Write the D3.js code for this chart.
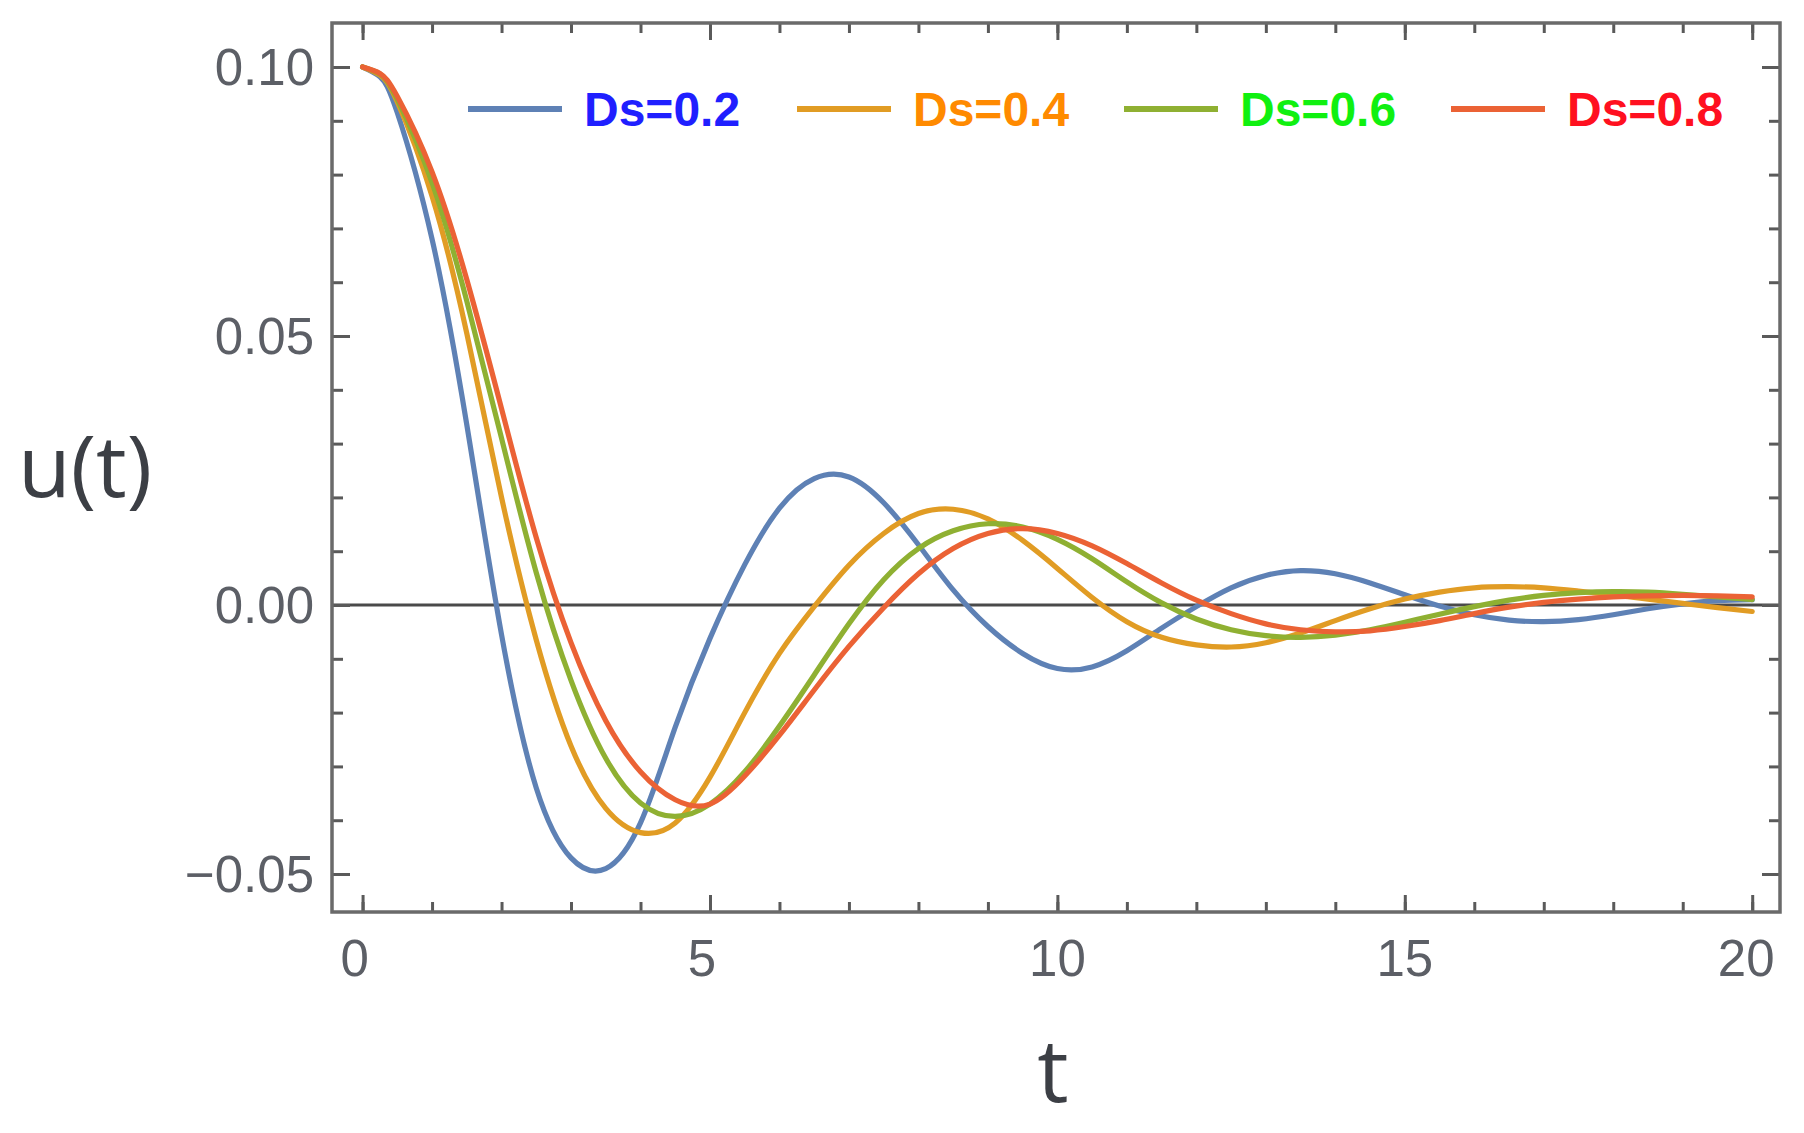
<!DOCTYPE html>
<html>
<head>
<meta charset="utf-8">
<script src="https://cdn.jsdelivr.net/npm/d3@7"></script>
<style>
  html, body { margin: 0; padding: 0; background: #ffffff; }
  svg { display: block; }
</style>
</head>
<body>
<svg id="chart" width="1804" height="1133"></svg>
<script>
// ---------------- data ----------------
const tValues = [0,0.25,0.5,1,1.5,2,2.5,3,3.5,4,4.5,5,5.5,6,6.5,7,7.5,8,8.5,9,9.5,10,
                 10.5,11,11.5,12,12.5,13,13.5,14,14.5,15,15.5,16,16.5,17,17.5,18,18.5,19,19.5,20];

const seriesNames = ["Ds=0.2", "Ds=0.4", "Ds=0.6", "Ds=0.8"];

const uDs02 = [0.1000,0.0982,0.0915,0.0680,0.0335,-0.0055,-0.0340,-0.0470,-0.0490,-0.0405,-0.0227,-0.0062,0.0075,0.0180,0.0235,0.0238,0.0190,0.0112,0.0028,-0.0040,-0.0090,-0.0118,
               -0.0115,-0.0085,-0.0043,-0.0003,0.0032,0.0055,0.0064,0.0058,0.0041,0.0019,-0.0002,-0.0018,-0.0028,-0.0031,-0.0027,-0.0018,-0.0007,0.0002,0.0008,0.0010];
const uDs04 = [0.1000,0.0985,0.0935,0.0760,0.0505,0.0200,-0.0065,-0.0262,-0.0378,-0.0423,-0.0405,-0.0320,-0.0200,-0.0090,-0.0003,0.0074,0.0133,0.0170,0.0178,0.0160,0.0120,0.0068,
               0.0014,-0.0031,-0.0060,-0.0074,-0.0078,-0.0070,-0.0052,-0.0029,-0.0007,0.0011,0.0024,0.0032,0.0034,0.0032,0.0026,0.0019,0.0011,0.0003,-0.0005,-0.0012];
const uDs06 = [0.1000,0.0987,0.0940,0.0785,0.0565,0.0310,0.0060,-0.0140,-0.0285,-0.0368,-0.0393,-0.0370,-0.0310,-0.0225,-0.0130,-0.0035,0.0047,0.0105,0.0138,0.0151,0.0145,0.0122,
               0.0086,0.0043,0.0004,-0.0026,-0.0046,-0.0057,-0.0060,-0.0056,-0.0046,-0.0032,-0.0017,-0.0003,0.0009,0.0018,0.0023,0.0025,0.0024,0.0020,0.0015,0.0010];
const uDs08 = [0.1000,0.0988,0.0945,0.0805,0.0605,0.0365,0.0125,-0.0070,-0.0215,-0.0310,-0.0362,-0.0370,-0.0318,-0.0242,-0.0158,-0.0077,-0.0005,0.0058,0.0105,0.0133,0.0142,0.0133,
               0.0110,0.0077,0.0041,0.0009,-0.0016,-0.0035,-0.0046,-0.0050,-0.0048,-0.0040,-0.0029,-0.0016,-0.0004,0.0005,0.0011,0.0015,0.0017,0.0018,0.0017,0.0015];

const xTickValues = [0, 5, 10, 15, 20];
const xTickLabels = ["0", "5", "10", "15", "20"];
const yTickValues = [-0.05, 0.00, 0.05, 0.10];
const yTickLabels = ["\u22120.05", "0.00", "0.05", "0.10"];
const xMinorTicks = [0,1,2,3,4,5,6,7,8,9,10,11,12,13,14,15,16,17,18,19,20];
const yMinorTicks = [-0.05,-0.04,-0.03,-0.02,-0.01,0,0.01,0.02,0.03,0.04,0.05,0.06,0.07,0.08,0.09,0.10];

// ---------------- styles ----------------
const lineColors = ["#5E81B5", "#E19C24", "#8FB032", "#EB6235"];
const textColors = ["#1f1fff", "#ff8a00", "#10f010", "#ff1020"];

const plot = { left: 332, right: 1780, top: 23, bottom: 912 };

const svg = d3.select("#chart");

const x = d3.scaleLinear().domain([-0.44, 20.40]).range([plot.left, plot.right]);
const y = d3.scaleLinear().domain([-0.05706, 0.10818]).range([plot.bottom, plot.top]);

// clip
svg.append("defs").append("clipPath").attr("id", "clip")
  .append("rect")
  .attr("x", plot.left).attr("y", plot.top)
  .attr("width", plot.right - plot.left).attr("height", plot.bottom - plot.top);

// zero axis line
svg.append("line")
  .attr("x1", plot.left).attr("x2", plot.right)
  .attr("y1", y(0)).attr("y2", y(0))
  .attr("stroke", "#4a4a4a").attr("stroke-width", 3.2);

// curves
const allSeries = [uDs02, uDs04, uDs06, uDs08];
const line = d3.line()
  .x((d, i) => x(tValues[i]))
  .y(d => y(d))
  .curve(d3.curveNatural);

const gLines = svg.append("g").attr("clip-path", "url(#clip)");
allSeries.forEach((s, k) => {
  gLines.append("path")
    .datum(s)
    .attr("d", line)
    .attr("fill", "none")
    .attr("stroke", lineColors[k])
    .attr("stroke-width", 5.2)
    .attr("stroke-linejoin", "round")
    .attr("stroke-linecap", "round");
});

// frame axes with inward ticks (d3 axes, negative tick size)
const tickColor = "#5a5a5a";
function styleAxis(g) {
  g.select(".domain").remove();
  g.selectAll("line").attr("stroke", tickColor).attr("stroke-width", 3);
}
// bottom
svg.append("g").attr("transform", `translate(0,${plot.bottom})`)
  .call(d3.axisBottom(x).tickValues(xMinorTicks).tickSize(-10).tickFormat(""))
  .call(styleAxis);
svg.append("g").attr("transform", `translate(0,${plot.bottom})`)
  .call(d3.axisBottom(x).tickValues(xTickValues).tickSize(-17).tickFormat(""))
  .call(styleAxis);
// top
svg.append("g").attr("transform", `translate(0,${plot.top})`)
  .call(d3.axisTop(x).tickValues(xMinorTicks).tickSize(-10).tickFormat(""))
  .call(styleAxis);
svg.append("g").attr("transform", `translate(0,${plot.top})`)
  .call(d3.axisTop(x).tickValues(xTickValues).tickSize(-17).tickFormat(""))
  .call(styleAxis);
// left
svg.append("g").attr("transform", `translate(${plot.left},0)`)
  .call(d3.axisLeft(y).tickValues(yMinorTicks).tickSize(-11).tickFormat(""))
  .call(styleAxis);
svg.append("g").attr("transform", `translate(${plot.left},0)`)
  .call(d3.axisLeft(y).tickValues(yTickValues).tickSize(-18).tickFormat(""))
  .call(styleAxis);
// right
svg.append("g").attr("transform", `translate(${plot.right},0)`)
  .call(d3.axisRight(y).tickValues(yMinorTicks).tickSize(-11).tickFormat(""))
  .call(styleAxis);
svg.append("g").attr("transform", `translate(${plot.right},0)`)
  .call(d3.axisRight(y).tickValues(yTickValues).tickSize(-18).tickFormat(""))
  .call(styleAxis);

// frame
svg.append("rect")
  .attr("x", plot.left).attr("y", plot.top)
  .attr("width", plot.right - plot.left).attr("height", plot.bottom - plot.top)
  .attr("fill", "none").attr("stroke", "#6a6a6a").attr("stroke-width", 3.5);

// tick labels
const labelFont = "'Liberation Sans', Arial, sans-serif";
const labelColor = "#5c5f66";
svg.append("g").selectAll("text")
  .data(xTickValues)
  .join("text")
  .attr("x", (d, i) => x(d) - (i === 4 ? 6 : (i === 0 || i === 1 ? 8 : 0)))
  .attr("y", 976)
  .attr("text-anchor", "middle")
  .attr("font-family", labelFont)
  .attr("font-size", 51)
  .attr("fill", labelColor)
  .text((d, i) => xTickLabels[i]);

svg.append("g").selectAll("text")
  .data(yTickValues)
  .join("text")
  .attr("x", 314)
  .attr("y", d => y(d))
  .attr("dy", "0.35em")
  .attr("text-anchor", "end")
  .attr("font-family", labelFont)
  .attr("font-size", 51)
  .attr("fill", labelColor)
  .text((d, i) => yTickLabels[i]);

// axis titles
svg.append("text")
  .attr("x", 85).attr("y", 497)
  .attr("text-anchor", "middle")
  .attr("font-family", "'Open Sans', 'Noto Sans', sans-serif")
  .attr("font-size", 86)
  .attr("fill", "#3c3f45")
  .text("u(t)");

svg.append("text")
  .attr("x", (plot.left + plot.right) / 2 - 3).attr("y", 1102)
  .attr("text-anchor", "middle")
  .attr("font-family", "'Open Sans', 'Noto Sans', sans-serif")
  .attr("font-size", 88)
  .attr("fill", "#3c3f45")
  .text("t");

// legend
const legendX = [468, 797, 1124, 1451];
const legendY = 109;
const legend = svg.append("g");
seriesNames.forEach((name, k) => {
  legend.append("line")
    .attr("x1", legendX[k]).attr("x2", legendX[k] + 94)
    .attr("y1", legendY).attr("y2", legendY)
    .attr("stroke", lineColors[k]).attr("stroke-width", 6);
  legend.append("text")
    .attr("x", legendX[k] + 116).attr("y", legendY + 17)
    .attr("font-family", labelFont)
    .attr("font-size", 48)
    .attr("font-weight", "bold")
    .attr("fill", textColors[k])
    .text(name);
});
</script>
</body>
</html>
